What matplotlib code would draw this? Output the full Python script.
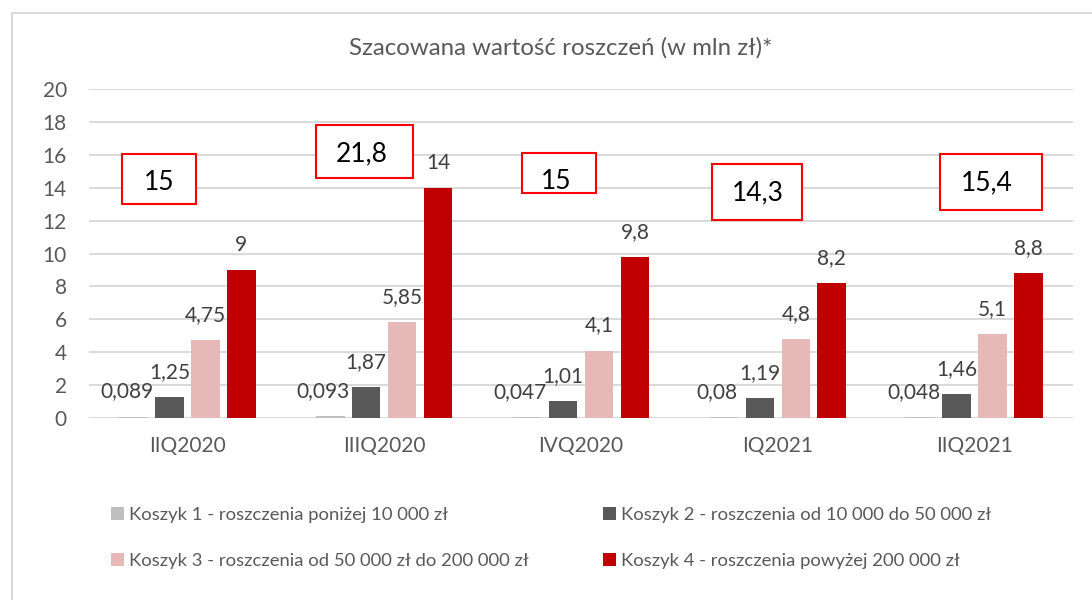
import matplotlib
matplotlib.use("Agg")
import matplotlib.pyplot as plt
from matplotlib.patches import Rectangle, Patch
import numpy as np

plt.rcParams['font.family'] = ['Lato', 'DejaVu Sans']

# ---- data ----
categories = ["IIQ2020", "IIIQ2020", "IVQ2020", "IQ2021", "IIQ2021"]
series_names = [
    "Koszyk 1 - roszczenia poniżej 10 000 zł",
    "Koszyk 2 - roszczenia od 10 000 do 50 000 zł",
    "Koszyk 3 - roszczenia od 50 000 zł do 200 000 zł",
    "Koszyk 4 - roszczenia powyżej 200 000 zł",
]
koszyk1 = [0.089, 0.093, 0.047, 0.08, 0.048]
koszyk2 = [1.25, 1.87, 1.01, 1.19, 1.46]
koszyk3 = [4.75, 5.85, 4.1, 4.8, 5.1]
koszyk4 = [9, 14, 9.8, 8.2, 8.8]
koszyk1_labels = ["0,089", "0,093", "0,047", "0,08", "0,048"]
koszyk2_labels = ["1,25", "1,87", "1,01", "1,19", "1,46"]
koszyk3_labels = ["4,75", "5,85", "4,1", "4,8", "5,1"]
koszyk4_labels = ["9", "14", "9,8", "8,2", "8,8"]
totals_labels = ["15", "21,8", "15", "14,3", "15,4"]
yticks = [0, 2, 4, 6, 8, 10, 12, 14, 16, 18, 20]
title = "Szacowana wartość roszczeń (w mln zł)*"

# ---- styles / layout ----
colors = ["#BFBFBF", "#595959", "#E6B8B7", "#C00000"]
label_dx = [-7, 0, 0, 0]  # px horizontal shift of value labels per series
# total boxes: (x0 rel, x1 rel, y0, y1, text x rel, text y) in data units
box_layout = [
    (-0.332, 0.044, 13.01, 16.05, -0.144, 14.29),
    (-0.347, 0.146, 14.59, 17.81, -0.114, 16.05),
    (-0.300, 0.076, 13.68, 16.11, -0.128, 14.35),
    (-0.334, 0.123, 12.04, 15.44, -0.102, 13.68),
    (-0.176, 0.342, 12.64, 16.05, 0.061, 14.29),
]

W, H = 1092, 600
fig = plt.figure(figsize=(W / 100, H / 100), dpi=100)
ax = fig.add_axes([89 / W, 1 - 418 / H, (1073 - 89) / W, (418 - 89) / H])

series = [koszyk1, koszyk2, koszyk3, koszyk4]
labels = [koszyk1_labels, koszyk2_labels, koszyk3_labels, koszyk4_labels]
x = np.arange(len(categories))
bw = 0.145
step = 0.1827
handles = []
for i, (vals, labs) in enumerate(zip(series, labels)):
    off = (i - 1.5) * step
    bars = ax.bar(x + off, vals, width=bw, color=colors[i], zorder=3)
    handles.append(Patch(facecolor=colors[i], edgecolor='none'))
    for xi, v, lab in zip(x, vals, labs):
        ax.annotate(lab, (xi + off, v), xytext=(label_dx[i] * 0.72, 18),
                    textcoords='offset points', ha='center', va='center',
                    fontsize=15, color='#404040', zorder=5)

for xi, lab, (bx0, bx1, by0, by1, tx, ty) in zip(x, totals_labels, box_layout):
    ax.add_patch(Rectangle((xi + bx0, by0), bx1 - bx0, by1 - by0, fill=True,
                           facecolor='white', edgecolor='#FF0000', lw=1.5,
                           zorder=6, clip_on=False))
    ax.text(xi + tx, ty, lab, ha='center', va='center', fontsize=19,
            color='black', zorder=7)

ax.set_xlim(-0.5, len(categories) - 0.5)
ax.set_ylim(0, 20)
ax.set_yticks(yticks)
ax.set_yticklabels([str(t) for t in yticks])
ax.set_xticks(x)
ax.set_xticklabels(categories)
ax.tick_params(axis='both', length=0, labelsize=15, labelcolor='#595959')
ax.tick_params(axis='y', pad=16)
ax.tick_params(axis='x', pad=13)
ax.grid(axis='y', color='#D9D9D9', lw=1.4, zorder=0)
ax.set_axisbelow(True)
for s in ax.spines.values():
    s.set_visible(False)

fig.text(561 / W, 1 - 48 / H, title, ha='center', va='center', fontsize=17.3,
         color='#595959')

order = [0, 2, 1, 3]
leg = fig.legend([handles[k] for k in order], [series_names[k] for k in order],
                 ncol=2, loc='upper left', bbox_to_anchor=(94 / W, 1 - 490 / H),
                 frameon=False, fontsize=13.3, labelcolor='#595959',
                 handlelength=0.7, handleheight=0.7, handletextpad=0.3,
                 columnspacing=4.0, labelspacing=1.62)

fig.add_artist(Rectangle((12 / W, -0.01), 1.0, 1 - 13 / H + 0.01,
                         transform=fig.transFigure, fill=False,
                         edgecolor='#D9D9D9', lw=1.5))

fig.savefig("out.png", dpi=100)
